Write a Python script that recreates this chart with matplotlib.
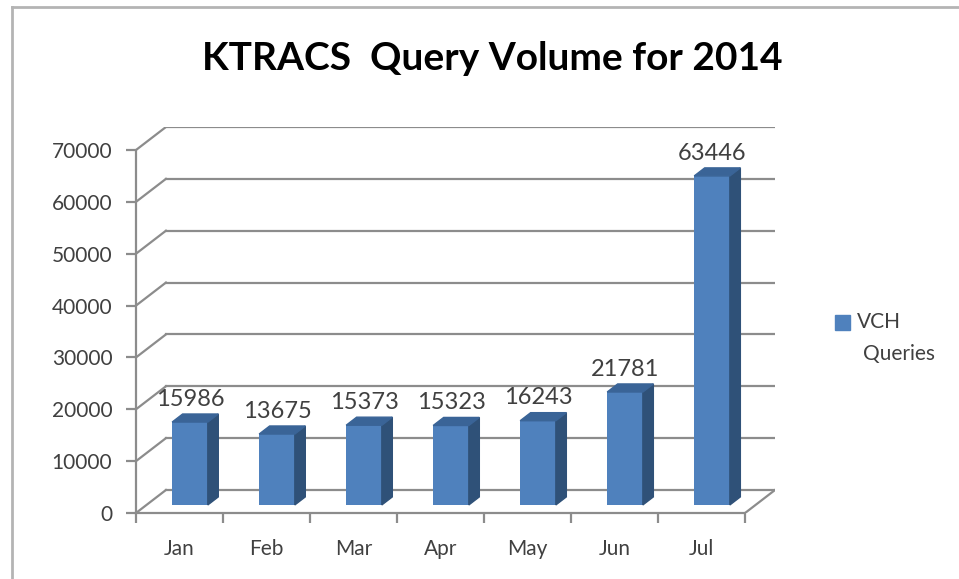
import matplotlib.pyplot as plt
from matplotlib.patches import Polygon, Rectangle
from matplotlib.lines import Line2D

# data
months = ['Jan', 'Feb', 'Mar', 'Apr', 'May', 'Jun', 'Jul']
queries = [15986, 13675, 15373, 15323, 16243, 21781, 63446]
y_ticks = [0, 10000, 20000, 30000, 40000, 50000, 60000, 70000]

plt.rcParams['font.family'] = ['Lato', 'DejaVu Sans']

W, H = 959, 579
fig = plt.figure(figsize=(W / 100, H / 100), dpi=100)

# plot area: x=-0.5 at px 136, right of back wall at px 775; y=0 at px 513
ddx = 0.344      # depth offset in category units (30 px)
ddy = 4436       # depth offset in value units (23 px)
ax = fig.add_axes([136 / W, (H - 513) / H, (775 - 136) / W, (513 - 127) / H])
ax.set_xlim(-0.5, 6.5 + ddx)
ax.set_ylim(0, 70000 + ddy)

grid_c = '#8c8c8c'
n = len(months)

# back wall gridlines and left side-wall slants
for y in y_ticks:
    ax.plot([-0.5 + ddx, n - 0.5 + ddx], [y + ddy, y + ddy], color=grid_c, lw=1.6, zorder=1)
    ax.plot([-0.5, -0.5 + ddx], [y, y + ddy], color=grid_c, lw=1.6, zorder=1)
# floor right edge
ax.plot([n - 0.5, n - 0.5 + ddx], [0, ddy], color=grid_c, lw=1.6, zorder=1)

# bars with faux 3D faces
f0, f1 = 0.35, 0.70
bw = 0.41
front_c, side_c, top_c = '#4f81bd', '#2f5178', '#3a6497'
xs = [i + f0 * ddx for i in range(n)]
ax.bar(xs, queries, width=bw, bottom=f0 * ddy, color=front_c, zorder=3)
for x, v in zip(xs, queries):
    b = f0 * ddy
    t = b + v
    xr, xl = x + bw / 2, x - bw / 2
    ox, oy = (f1 - f0) * ddx, (f1 - f0) * ddy
    ax.add_patch(Polygon([(xr, b), (xr + ox, b + oy), (xr + ox, t + oy), (xr, t)],
                         closed=True, color=side_c, zorder=3))
    ax.add_patch(Polygon([(xl, t), (xr, t), (xr + ox, t + oy), (xl + ox, t + oy)],
                         closed=True, color=top_c, zorder=3))
    ax.annotate(str(v), (x, t + oy), xytext=(0, 6), textcoords='offset points',
                ha='center', va='baseline', fontsize=17, color='#404040', zorder=4)

# front axes
for s in ['top', 'right']:
    ax.spines[s].set_visible(False)
ax.spines['left'].set_bounds(0, 70000)
ax.spines['bottom'].set_bounds(-0.5, n - 0.5)
for s in ['left', 'bottom']:
    ax.spines[s].set_color(grid_c)
    ax.spines[s].set_linewidth(1.6)
ax.set_yticks(y_ticks)
ax.set_yticklabels([str(t) for t in y_ticks])
ax.set_xticks([i - 0.5 for i in range(n + 1)])
ax.set_xticklabels([])
ax.set_xticks(range(n), labels=months, minor=True)
ax.tick_params(axis='y', length=7, width=1.6, color=grid_c, pad=10, labelsize=15, labelcolor='#404040')
ax.tick_params(axis='x', which='major', length=7, width=1.6, color=grid_c)
ax.tick_params(axis='x', which='minor', length=0, pad=19, labelsize=15, labelcolor='#404040')
ax.patch.set_alpha(0)

# title
fig.text(492 / W, 1 - 70 / H, 'KTRACS  Query Volume for 2014', ha='center', va='baseline',
         fontsize=28, fontweight='bold', color='black')

# legend
fig.add_artist(Rectangle((835 / W, 1 - 330 / H), 15 / W, 15 / H, transform=fig.transFigure,
                         color=front_c))
fig.text(857 / W, 1 - 322 / H, 'VCH', ha='left', va='center', fontsize=15, color='#404040')
fig.text(863 / W, 1 - 354 / H, 'Queries', ha='left', va='center', fontsize=15, color='#404040')

# outer chart border
fig.add_artist(Line2D([12 / W, 12 / W], [0, 1 - 7 / H], transform=fig.transFigure,
                      color='#b4b4b4', lw=2))
fig.add_artist(Line2D([12 / W, 1], [1 - 7 / H, 1 - 7 / H], transform=fig.transFigure,
                      color='#b4b4b4', lw=2))

fig.savefig('out.png', dpi=100)
